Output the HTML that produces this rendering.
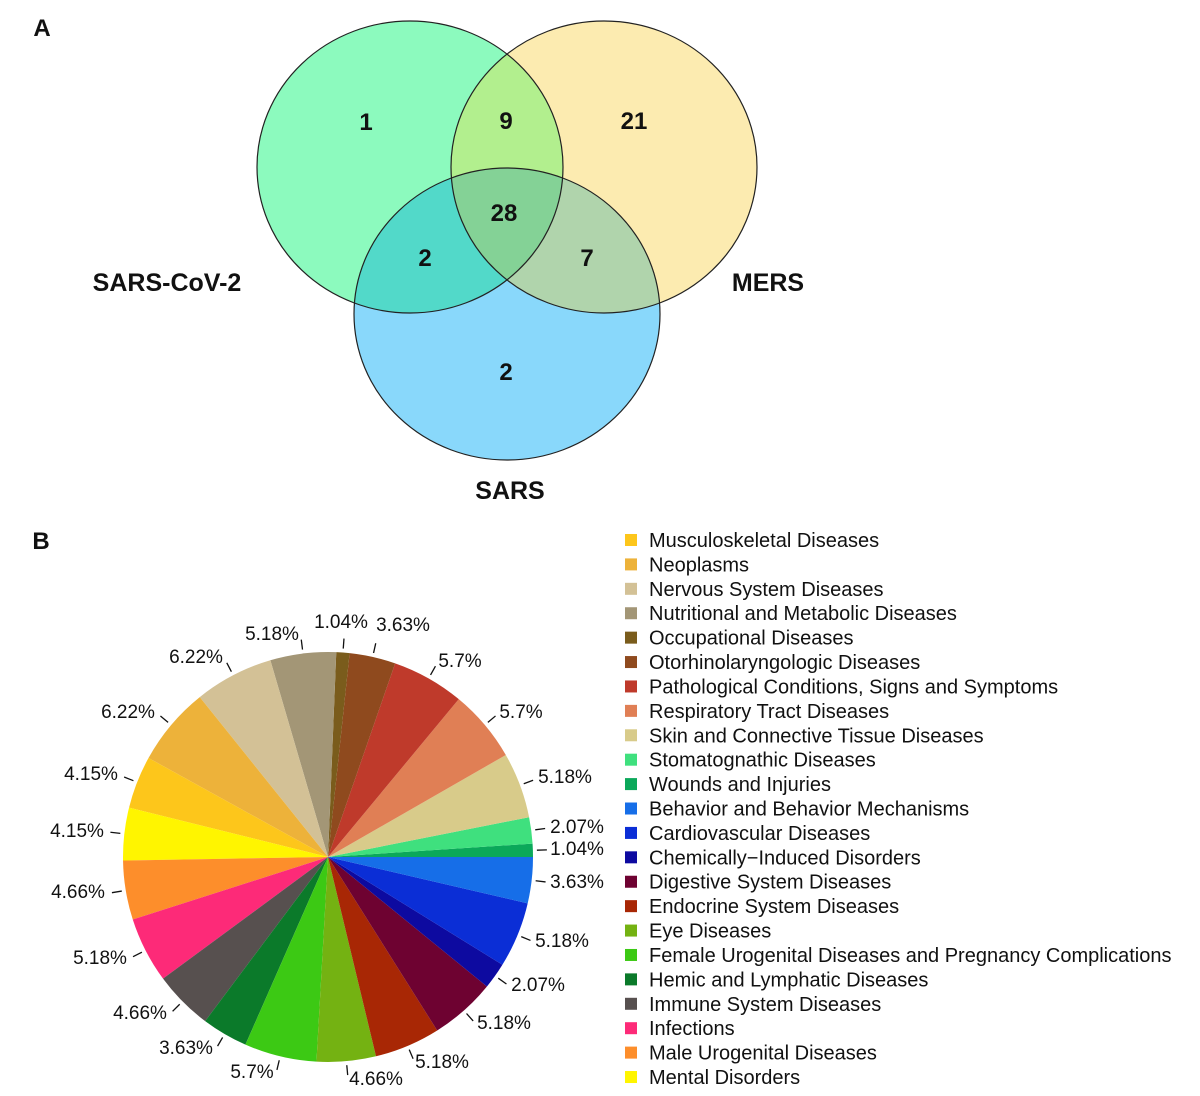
<!DOCTYPE html>
<html><head><meta charset="utf-8"><style>
html,body{margin:0;padding:0;background:#fff;}
svg{display:block;font-family:"Liberation Sans",Arial,sans-serif;}
</style></head><body>
<svg id="s" width="1200" height="1096" viewBox="0 0 1200 1096" xmlns="http://www.w3.org/2000/svg">
<rect x="0" y="0" width="1200" height="1096" fill="#fff"/>
<defs>
<clipPath id="cg"><ellipse cx="410" cy="167" rx="153" ry="146"/></clipPath>
<clipPath id="cy"><ellipse cx="604" cy="167" rx="153" ry="146"/></clipPath>
<clipPath id="cb"><ellipse cx="507" cy="314" rx="153" ry="146"/></clipPath>
</defs>
<ellipse cx="410" cy="167" rx="153" ry="146" fill="#8cfabe"/>
<ellipse cx="604" cy="167" rx="153" ry="146" fill="#fcebb0"/>
<ellipse cx="507" cy="314" rx="153" ry="146" fill="#89d8fb"/>
<ellipse cx="604" cy="167" rx="153" ry="146" fill="#b2ef8e" clip-path="url(#cg)"/>
<ellipse cx="507" cy="314" rx="153" ry="146" fill="#52d9c9" clip-path="url(#cg)"/>
<ellipse cx="507" cy="314" rx="153" ry="146" fill="#b0d4ac" clip-path="url(#cy)"/>
<g clip-path="url(#cg)"><ellipse cx="507" cy="314" rx="153" ry="146" fill="#84d296" clip-path="url(#cy)"/></g>
<g fill="none" stroke="#222" stroke-width="1.2">
<ellipse cx="410" cy="167" rx="153" ry="146"/>
<ellipse cx="604" cy="167" rx="153" ry="146"/>
<ellipse cx="507" cy="314" rx="153" ry="146"/>
</g>
<g font-weight="bold" font-size="24" text-anchor="middle" fill="#111">
<text x="366" y="130">1</text><text x="506" y="129">9</text><text x="634" y="129">21</text>
<text x="504" y="221">28</text><text x="425" y="266">2</text><text x="587" y="266">7</text>
<text x="506" y="380">2</text>
<text x="167" y="291" font-size="25">SARS-CoV-2</text><text x="768" y="291" font-size="25">MERS</text><text x="510" y="499" font-size="25">SARS</text>
<text x="42" y="36">A</text><text x="41" y="549">B</text>
</g>
<g id="pie"></g>
<g id="leg" font-size="20" fill="#111"></g>
</svg>
<script>
var d=[["Wounds and Injuries",1.04,"#0ba85a"],["Stomatognathic Diseases",2.07,"#3fe07e"],["Skin and Connective Tissue Diseases",5.18,"#d8cb8a"],["Respiratory Tract Diseases",5.7,"#e07f55"],["Pathological Conditions, Signs and Symptoms",5.7,"#bf3a2b"],["Otorhinolaryngologic Diseases",3.63,"#8f4a1e"],["Occupational Diseases",1.04,"#7a5c1c"],["Nutritional and Metabolic Diseases",5.18,"#a39676"],["Nervous System Diseases",6.22,"#d3c196"],["Neoplasms",6.22,"#edb23a"],["Musculoskeletal Diseases",4.15,"#fdc61b"],["Mental Disorders",4.15,"#fff500"],["Male Urogenital Diseases",4.66,"#fd8e2b"],["Infections",5.18,"#fd2a78"],["Immune System Diseases",4.66,"#57504f"],["Hemic and Lymphatic Diseases",3.63,"#0b7a2a"],["Female Urogenital Diseases and Pregnancy Complications",5.7,"#3cc914"],["Eye Diseases",4.66,"#74b212"],["Endocrine System Diseases",5.18,"#a82705"],["Digestive System Diseases",5.18,"#6e0231"],["Chemically\u2212Induced Disorders",2.07,"#0d0aa0"],["Cardiovascular Diseases",5.18,"#0b2ed6"],["Behavior and Behavior Mechanisms",3.63,"#166ee8"]];
var lp=[[577,849],[577,827],[565,777],[521,712],[460,661],[403,625],[341,622],[272,634],[196,657],[128,712],[91,774],[77,831],[78,892],[100,958],[140,1013],[186,1048],[252,1072],[376,1079],[442,1062],[504,1023],[538,985],[562,941],[577,882]];
var cx=328,cy=857,r=205,tot=0;d.forEach(function(e){tot+=e[1]});
var g=document.getElementById("pie"),a=0,h="";
d.forEach(function(e,i){var a2=a+e[1]/tot*2*Math.PI;
var x1=cx+r*Math.cos(a),y1=cy-r*Math.sin(a),x2=cx+r*Math.cos(a2),y2=cy-r*Math.sin(a2);
h+='<path d="M'+cx+' '+cy+' L'+x1+' '+y1+' A'+r+' '+r+' 0 '+((a2-a)>Math.PI?1:0)+' 0 '+x2+' '+y2+' Z" fill="'+e[2]+'"/>';
var m=(a+a2)/2,c=Math.cos(m),s=Math.sin(m);
h+='<line x1="'+(cx+(r+4)*c)+'" y1="'+(cy-(r+4)*s)+'" x2="'+(cx+(r+14)*c)+'" y2="'+(cy-(r+14)*s)+'" stroke="#111" stroke-width="1.3"/>';
h+='<text x="'+lp[i][0]+'" y="'+(lp[i][1]+6)+'" text-anchor="middle" font-size="19" fill="#111">'+e[1]+'%</text>';
a=a2;});
g.innerHTML=h;
var order=["Musculoskeletal Diseases","Neoplasms","Nervous System Diseases","Nutritional and Metabolic Diseases","Occupational Diseases","Otorhinolaryngologic Diseases","Pathological Conditions, Signs and Symptoms","Respiratory Tract Diseases","Skin and Connective Tissue Diseases","Stomatognathic Diseases","Wounds and Injuries","Behavior and Behavior Mechanisms","Cardiovascular Diseases","Chemically\u2212Induced Disorders","Digestive System Diseases","Endocrine System Diseases","Eye Diseases","Female Urogenital Diseases and Pregnancy Complications","Hemic and Lymphatic Diseases","Immune System Diseases","Infections","Male Urogenital Diseases","Mental Disorders"];
var cm={};d.forEach(function(e){cm[e[0]]=e[2]});var L="";
order.forEach(function(n,i){var y=540+i*24.41;
L+='<rect x="625" y="'+(y-6)+'" width="12" height="12" fill="'+cm[n]+'"/><text x="649" y="'+(y+7)+'">'+n+'</text>';});
document.getElementById("leg").innerHTML=L;
</script>
</body></html>
